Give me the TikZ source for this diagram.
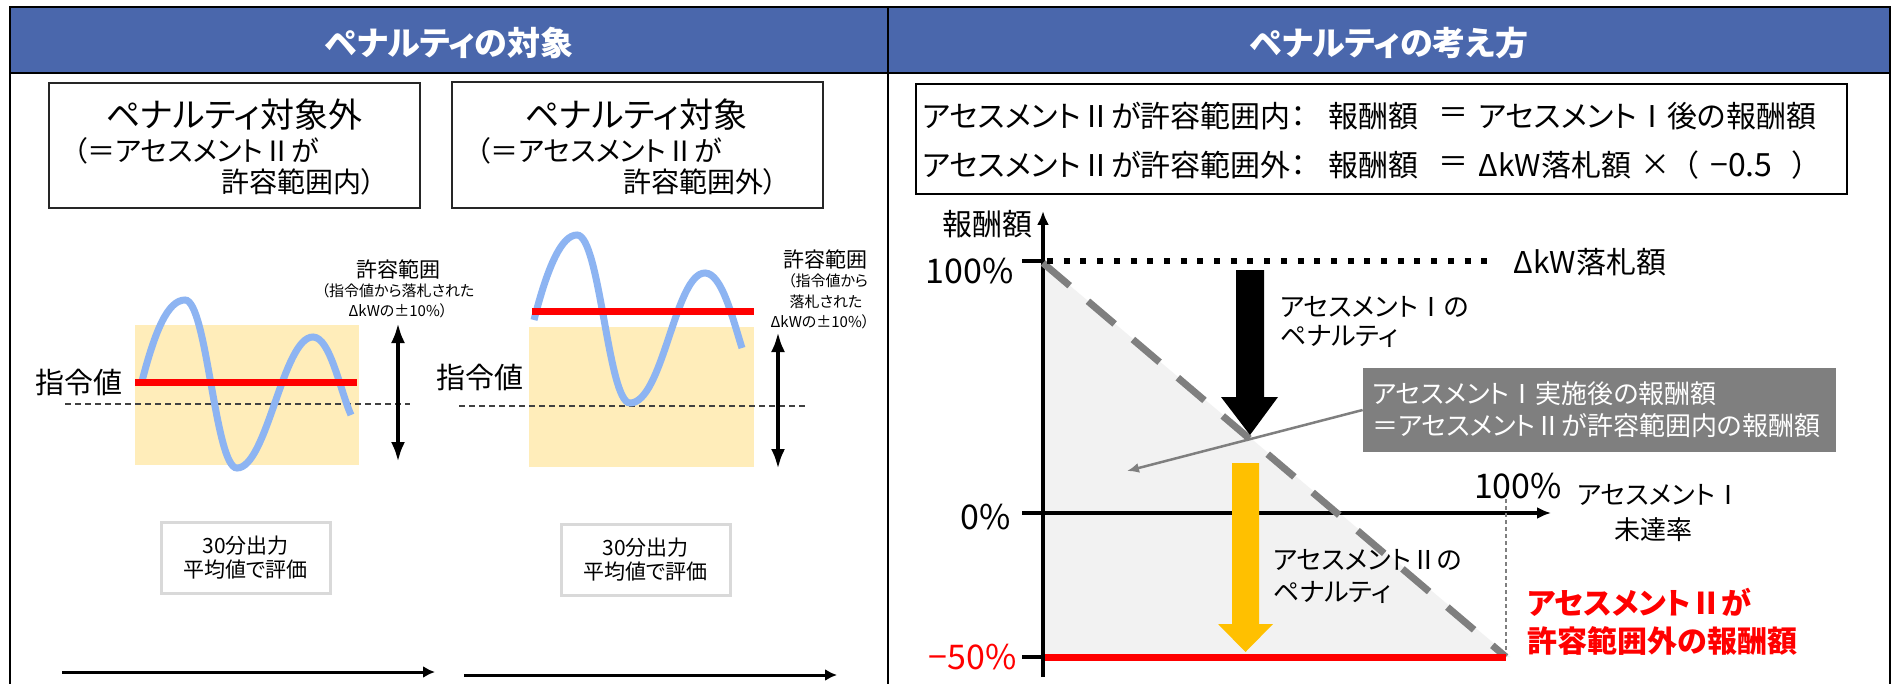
\documentclass[tikz,border=0pt]{standalone}
\usepackage{fontspec}
\setmainfont{Noto Sans CJK JP}[RawFeature={+palt}]
\usetikzlibrary{arrows.meta}
\definecolor{hdrblue}{RGB}{74,103,172}
\definecolor{wavecol}{RGB}{141,180,242}
\definecolor{pale}{RGB}{255,237,186}
\definecolor{midgray}{RGB}{127,127,127}
\definecolor{fillgray}{RGB}{242,242,242}
\definecolor{lightframe}{RGB}{217,217,217}
\definecolor{amber}{RGB}{255,192,0}
\definecolor{pured}{RGB}{255,0,0}
\tikzset{
  hdrbox/.style={fill=hdrblue, draw=black, line width=1pt},
  hdrtext/.style={text=white, font=\fontsize{16.5}{19}\selectfont\bfseries, inner sep=0pt},
  frameline/.style={line width=1.1pt},
  casebox/.style={draw=black!85, line width=0.9pt},
  casetitle/.style={font=\fontsize{17}{20}\selectfont, inner sep=0pt},
  casesub/.style={font=\fontsize{14}{17}\selectfont, inner sep=0pt},
  band/.style={fill=pale},
  wave/.style={draw=wavecol, line width=3.5pt},
  cmdline/.style={draw=pured, line width=3.5pt},
  guide/.style={draw=black!75, line width=0.7pt, dash pattern=on 3pt off 2pt},
  rangearrow/.style={line width=2pt, {Latex[length=10pt,width=7pt]}-{Latex[length=10pt,width=7pt]}},
  reflabel/.style={font=\fontsize{14.5}{17}\selectfont, inner sep=0pt},
  tolhead/.style={font=\fontsize{10.5}{12}\selectfont, inner sep=0pt},
  tolsmall/.style={font=\fontsize{7.5}{9}\selectfont, inner sep=0pt},
  evalbox/.style={draw=lightframe, line width=1.5pt, minimum width=84.5pt, minimum height=35.5pt, align=center, font=\fontsize{10.5}{12}\selectfont, inner sep=0pt},
  timearrow/.style={line width=1.5pt, -{Latex[length=6pt,width=6pt]}},
  fbox/.style={draw=black, line width=1pt},
  ftext/.style={font=\fontsize{15}{18}\selectfont, inner sep=0pt},
  axis/.style={line width=1.75pt, -{Latex[length=7pt,width=6pt]}},
  tick/.style={line width=1.75pt},
  axlabel/.style={font=\fontsize{15}{18}\selectfont, inner sep=0pt},
  numlabel/.style={font=\fontsize{17}{20}\selectfont, inner sep=0pt},
  penlabel/.style={font=\fontsize{13}{16}\selectfont, inner sep=0pt},
  redlabel/.style={font=\fontsize{15}{19}\selectfont\bfseries, text=pured, inner sep=0pt},
  callout/.style={fill=midgray, text=white, font=\fontsize{13}{16}\selectfont, minimum width=236.5pt, minimum height=42pt, inner xsep=4.5pt, text width=227.5pt, align=left},
  calloutarrow/.style={draw=midgray, line width=1.25pt, -{Latex[length=6pt,width=5pt]}},
}
\begin{document}
\begin{tikzpicture}[x=0.5pt,y=-0.5pt]
\useasboundingbox (0,0) rectangle (1899,684);
\fill[white] (0,0) rectangle (1899,684);

% ---------- frame and headers ----------
\draw[hdrbox] (10,7) rectangle (888,73);
\draw[hdrbox] (888,7) rectangle (1890,73);
\draw[frameline] (10,73) -- (10,684);
\draw[frameline] (888,73) -- (888,684);
\draw[frameline] (1890,73) -- (1890,684);
\node[hdrtext] (hL) at (449,43) {ペナルティの対象};
\node[hdrtext] (hR) at (1389,43) {ペナルティの考え方};

% ---------- left panel: case boxes ----------
\draw[casebox] (49,83) rectangle (420,208);
\node[casetitle] (c1t) at (234,115) {ペナルティ対象外};
\node[casesub, anchor=west] (c1a) at (73,151) {（＝アセスメントⅡが};
\node[casesub, anchor=east] (c1b) at (376,182) {許容範囲内）};
\draw[casebox] (452,82) rectangle (823,208);
\node[casetitle] (c2t) at (636,115) {ペナルティ対象};
\node[casesub, anchor=west] (c2a) at (476,151) {（＝アセスメントⅡが};
\node[casesub, anchor=east] (c2b) at (778,182) {許容範囲外）};

% ---------- left plot (within range) ----------
\fill[band] (135,325) rectangle (359,465);
\draw[guide] (65,404) -- (410,404);
\draw[wave] (141,385) .. controls (155,330) and (168,300) .. (185,300)
  .. controls (207,300) and (215,468) .. (237,468)
  .. controls (267,468) and (283,337) .. (313,337)
  .. controls (330,337) and (340,390) .. (351,415);
\draw[cmdline] (135,382) -- (357,382);
\node[reflabel] (r1) at (79,382) {指令値};
\coordinate (a1t) at (398,323);
\coordinate (a1b) at (398,462);
\draw[rangearrow] (a1t) -- (a1b);
\node[tolhead] (t1a) at (398,269) {許容範囲};
\node[tolsmall] (t1b) at (398,291) {（指令値から落札された};
\node[tolsmall] (t1c) at (398,311) {ΔkWの±10\%）};
\node[evalbox] (e1) at (245.5,557.5) {30分出力\\平均値で評価};
\coordinate (b1s) at (62,672);
\coordinate (b1e) at (435,672);
\draw[timearrow] (b1s) -- (b1e);

% ---------- left plot (out of range) ----------
\fill[band] (529,327) rectangle (754,467);
\draw[guide] (459,406) -- (807,406);
\draw[wave] (534,320) .. controls (548,265) and (562,235) .. (577,235)
  .. controls (600,235) and (608,403) .. (630,403)
  .. controls (663,403) and (675,273) .. (705,273)
  .. controls (722,273) and (733,320) .. (742,348);
\draw[cmdline] (532,311) -- (754,311);
\node[reflabel] (r2) at (480,377) {指令値};
\coordinate (a2t) at (778,332);
\coordinate (a2b) at (778,469);
\draw[rangearrow] (a2t) -- (a2b);
\node[tolhead] (t2a) at (825,259) {許容範囲};
\node[tolsmall] (t2b) at (828,281) {（指令値から};
\node[tolsmall] (t2c) at (826,302) {落札された};
\node[tolsmall] (t2d) at (820,322) {ΔkWの±10\%）};
\node[evalbox] (e2) at (645.5,560) {30分出力\\平均値で評価};
\coordinate (b2s) at (464,675);
\coordinate (b2e) at (837,675);
\draw[timearrow] (b2s) -- (b2e);

% ---------- right panel: formula box ----------
\draw[fbox] (916,84) rectangle (1847,194);
\node[ftext, anchor=west] (f1a) at (922,116) {アセスメントⅡが許容範囲内：};
\node[ftext, anchor=west] (f1b) at (1328,116) {報酬額};
\node[ftext] (f1c) at (1453,116) {＝};
\node[ftext, anchor=west] (f1d) at (1478,116) {アセスメントⅠ後の報酬額};
\node[ftext, anchor=west] (f2a) at (922,165) {アセスメントⅡが許容範囲外：};
\node[ftext, anchor=west] (f2b) at (1328,165) {報酬額};
\node[ftext] (f2c) at (1453,165) {＝};
\node[ftext, anchor=west] (f2d) at (1478,165) {ΔkW落札額};
\node[ftext] (f2e) at (1655,165) {×};
\node[ftext, anchor=east] (f2p) at (1699,165) {（};
\node[ftext, anchor=west, font=\fontsize{16}{18}\selectfont] (f2v) at (1710,165) {−0.5};
\node[ftext, anchor=east] (f2q) at (1808,165) {）};

% ---------- right panel: chart ----------
\fill[fillgray] (1043,263) -- (1510,657) -- (1043,657) -- cycle;
\coordinate (yb) at (1043,677);
\coordinate (yt) at (1043,211);
\coordinate (xl) at (1022,513);
\coordinate (xr) at (1551,513);
\draw[axis] (yb) -- (yt);
\draw[axis] (xl) -- (xr);
\draw[tick] (1022,261) -- (1043,261);
\draw[tick] (1022,657) -- (1043,657);
\draw[draw=midgray, line width=0.6pt, dash pattern=on 2pt off 1.5pt] (1506,492) -- (1506,653);
\draw[draw=midgray, line width=3.5pt, dash pattern=on 17.5pt off 12pt] (1043,263) -- (1506,657);
\draw[line width=3pt, dash pattern=on 3pt off 5.35pt] (1047,261) -- (1497,261);
\draw[cmdline] (1045,657) -- (1506,657);

% block arrows
\fill[black] (1236,270) -- (1264,270) -- (1264,397) -- (1278,397) -- (1250,435) -- (1221,397) -- (1236,397) -- cycle;
\fill[amber] (1232,463) -- (1259,463) -- (1259,624) -- (1273,624) -- (1245.5,652) -- (1218,624) -- (1232,624) -- cycle;

% labels
\node[axlabel] (ylab) at (987,224) {報酬額};
\node[numlabel, anchor=east] (y100) at (1014,271) {100\%};
\node[numlabel, anchor=east] (y0) at (1011,517) {0\%};
\node[numlabel, anchor=east, text=pured] (y50) at (1017,657) {−50\%};
\node[axlabel, anchor=west] (bid) at (1513,262) {ΔkW落札額};
\node[penlabel, anchor=west] (p1a) at (1280,307) {アセスメントⅠの};
\node[penlabel, anchor=west] (p1b) at (1280,336) {ペナルティ};
\node[penlabel, anchor=west] (p2a) at (1273,560) {アセスメントⅡの};
\node[penlabel, anchor=west] (p2b) at (1273,592) {ペナルティ};
\node[numlabel] (x100) at (1518,486) {100\%};
\node[penlabel, anchor=west] (xl1) at (1577,495) {アセスメントⅠ};
\node[penlabel] (xl2) at (1653,530) {未達率};
\node[redlabel, anchor=west] (rd1) at (1527,602) {アセスメントⅡが};
\node[redlabel, anchor=west] (rd2) at (1527,641) {許容範囲外の報酬額};

% callout
\node[callout] (cb) at (1599.5,410) {アセスメントⅠ実施後の報酬額\\＝アセスメントⅡが許容範囲内の報酬額};
\coordinate (cbt) at (1127,471);
\draw[calloutarrow] (cb.west) -- (cbt);
\end{tikzpicture}
\end{document}
